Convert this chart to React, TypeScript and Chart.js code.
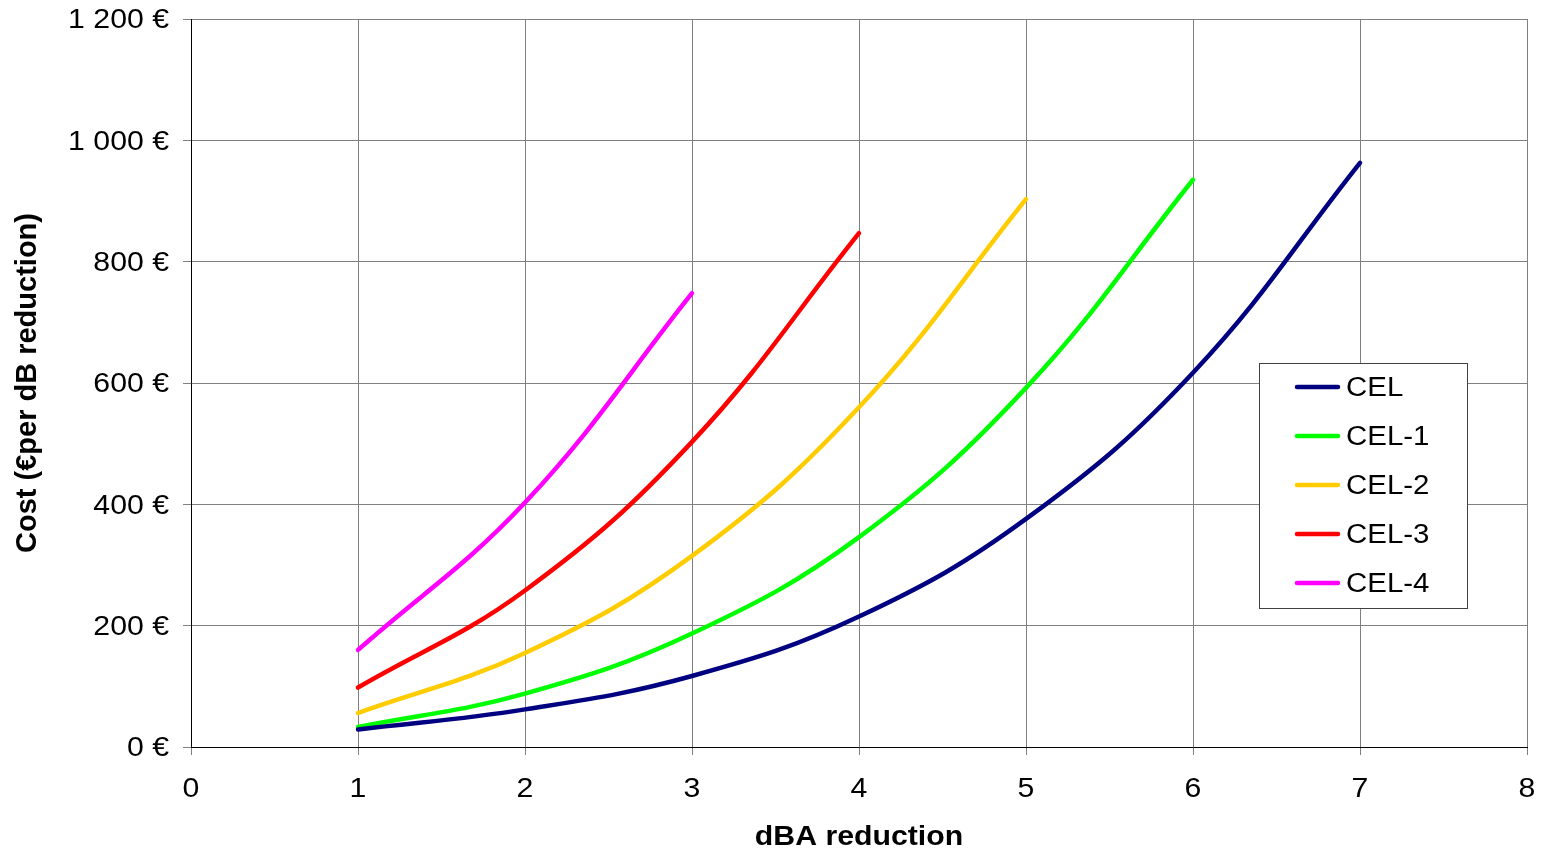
import React, { useEffect, useRef } from "react";
import { Chart, registerables } from "chart.js";

Chart.register(...registerables);

const xValues = [1, 2, 3, 4, 5, 6, 7];
const seriesNames = ["CEL", "CEL-1", "CEL-2", "CEL-3", "CEL-4"];
const seriesColors = ["#000080", "#00FF00", "#FFCC00", "#FF0000", "#FF00FF"];
const cel = [29, 62, 117, 215, 376, 617, 963];
const cel1 = [33, 88, 187, 346, 592, 935];
const cel2 = [56, 155, 315, 560, 903];
const cel3 = [98, 258, 503, 847];
const cel4 = [160, 403, 748];
const seriesValues = [cel, cel1, cel2, cel3, cel4];

const xTitle = "dBA reduction";
const yTitle = "Cost (€per dB reduction)";

const FONT = "'Liberation Sans', Arial, sans-serif";
const SX = 1.12;

function formatEuro(v: number): string {
  if (v >= 1000) {
    const th = Math.floor(v / 1000);
    const rest = String(v % 1000).padStart(3, "0");
    return `${th} ${rest} €`;
  }
  return `${v} €`;
}

const stretchTextPlugin = {
  id: "stretchText",
  beforeDraw(chart: any) {
    const ctx = chart.ctx;
    if (ctx.__patched) return;
    const orig = ctx.fillText;
    ctx.fillText = function (text: string, x: number, y: number) {
      const m = this.getTransform();
      if (Math.abs(m.b) > 0.01 || Math.abs(m.c) > 0.01) {
        return orig.call(this, text, x, y);
      }
      this.save();
      this.translate(x, y);
      this.scale(SX, 1);
      orig.call(this, text, 0, 0);
      this.restore();
    };
    ctx.__patched = true;
  },
};

const legendPlugin = {
  id: "boxLegend",
  afterDraw(chart: any) {
    const ctx = chart.ctx;
    const x0 = 1259, y0 = 363, w = 208, h = 245;
    ctx.save();
    ctx.fillStyle = "#ffffff";
    ctx.fillRect(x0, y0, w, h);
    ctx.strokeStyle = "#404040";
    ctx.lineWidth = 1;
    ctx.strokeRect(x0 + 0.5, y0 + 0.5, w, h);
    const rows = [387, 436, 485, 534, 583];
    ctx.font = `27px ${FONT}`;
    ctx.textBaseline = "middle";
    ctx.textAlign = "left";
    seriesNames.forEach((name, i) => {
      const y = rows[i];
      ctx.strokeStyle = seriesColors[i];
      ctx.lineWidth = 4.5;
      ctx.lineCap = "round";
      ctx.beginPath();
      ctx.moveTo(1297, y);
      ctx.lineTo(1338, y);
      ctx.stroke();
      ctx.fillStyle = "#000000";
      ctx.save();
      ctx.translate(1346, y + 2);
      ctx.scale(1.09 / SX, 1);
      ctx.fillText(name, 0, 0);
      ctx.restore();
    });
    ctx.restore();
  },
};

export default function App() {
  const ref = useRef<HTMLCanvasElement | null>(null);

  useEffect(() => {
    if (!ref.current) return;
    const datasets = seriesNames.map((name, i) => ({
      label: name,
      data: seriesValues[i].map((v, j) => ({ x: xValues[j], y: v })),
      borderColor: seriesColors[i],
      backgroundColor: seriesColors[i],
      borderWidth: 4.5,
      pointRadius: 0,
      tension: 0.4,
      borderCapStyle: "round" as const,
      fill: false,
    }));
    const chart = new Chart(ref.current, {
      type: "line",
      data: { datasets },
      options: {
        responsive: false,
        animation: false,
        layout: { padding: { top: 19, right: 14, left: 0, bottom: 0 } },
        plugins: {
          legend: { display: false },
          tooltip: { enabled: false },
        },
        scales: {
          x: {
            type: "linear",
            min: 0,
            max: 8,
            ticks: {
              stepSize: 1,
              color: "#000",
              font: { family: FONT, size: 27 },
              padding: 18,
            },
            grid: { color: "#808080", tickLength: 8, tickColor: "#808080" },
            border: { color: "#000", width: 1 },
            title: {
              display: true,
              text: xTitle,
              color: "#000",
              font: { family: FONT, size: 27, weight: "bold", lineHeight: 0.9 },
              padding: { top: 0, bottom: 0 },
            },
            afterFit(scale: any) {
              scale.height = 103;
              scale.paddingLeft = 0;
              scale.paddingRight = 0;
            },
          },
          y: {
            type: "linear",
            min: 0,
            max: 1200,
            ticks: {
              stepSize: 200,
              color: "#000",
              font: { family: FONT, size: 27 },
              padding: 14,
              labelOffset: 2,
              callback: (v: any) => formatEuro(Number(v)),
            },
            grid: { color: "#808080", tickLength: 8, tickColor: "#808080" },
            border: { color: "#000", width: 1 },
            title: {
              display: true,
              text: yTitle,
              color: "#000",
              font: { family: FONT, size: 29, weight: "bold", lineHeight: 1.1 },
              padding: { top: 12, bottom: 0 },
            },
            afterFit(scale: any) {
              scale.width = 191;
              scale.paddingTop = 0;
              scale.paddingBottom = 0;
            },
          },
        },
      },
      plugins: [stretchTextPlugin, legendPlugin],
    });
    return () => chart.destroy();
  }, []);

  return (
    <div style={{ position: "absolute", left: 0, top: 0, width: 1541, height: 850, background: "#fff" }}>
      <canvas ref={ref} width={1541} height={850} style={{ width: 1541, height: 850, display: "block" }} />
    </div>
  );
}
